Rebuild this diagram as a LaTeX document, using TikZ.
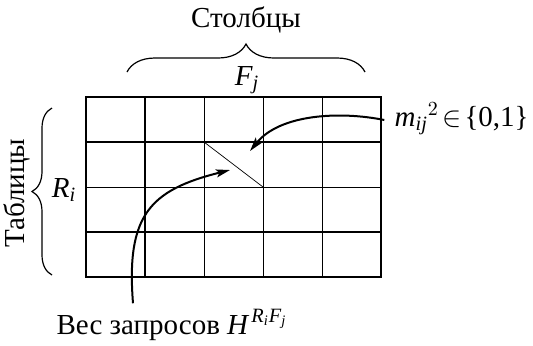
\documentclass[tikz,border=0pt]{standalone}
\usepackage{fontspec}
\setmainfont{Liberation Serif}
\usepackage{amsmath}
\usepackage{tikz}
\usetikzlibrary{arrows.meta,positioning,decorations.pathreplacing,calc}
\newcommand{\vi}[1]{\textit{#1}}
\tikzset{
  gridline/.style={line width=0.5pt,black},
  heavyline/.style={line width=1pt,black},
  diagline/.style={line width=0.35pt,black},
  bracestyle/.style={decorate,decoration={brace,amplitude=#1},line width=0.6pt},
  bracestyle/.default={10pt},
  pointer/.style={-{Stealth[length=7pt,width=4pt,inset=1.5pt]},line width=1pt},
  lbl/.style={font=\fontsize{14.5}{17}\selectfont,inner sep=1pt},
}

\begin{document}
\begin{tikzpicture}[x=0.5pt,y=-0.5pt]
  \useasboundingbox (0,0) rectangle (533,345);
  % grid of tables x columns
  \foreach \c in {1,...,4}
    \draw[gridline] (86+59*\c,97) -- (86+59*\c,277);
  \draw[heavyline,line width=0.8pt] (145,97) -- (145,277);
  \foreach \r in {2}
    \draw[gridline] (86,97+45*\r) -- (381,97+45*\r);
  \foreach \r in {1,3}
    \draw[heavyline] (86,97+45*\r) -- (381,97+45*\r);
  \draw[gridline,line width=0.65pt] (86,97) rectangle (381,277);
  \draw[diagline] (204,142) -- (263,187);
  \coordinate (mtip) at (250,151);
  \coordinate (htip) at (230,170);
  % labels
  \node[lbl] (cols) at (246,20) {Столбцы};
  \node[lbl] (fj) at (247,80) {$\vi{F}_{\vi{j}}$};
  \node[lbl,rotate=90] (tabs) at (17,193) {Таблицы};
  \node[lbl] (ri) at (64,190) {$\vi{R}_{\vi{i}}$};
  \node[lbl,anchor=east] (mij) at (531,119)
    {$\vi{m}_{\vi{ij}}{}^{2}\mathrel{\!\in\!}\mbox{\{0,1\}}$};
  \node[lbl] (weight) at (172,325) {Вес запросов $\vi{H}^{\,\vi{R}_{\vi{i}}\vi{F}_{\vi{j}}}$};
  % braces
  \draw[bracestyle=14pt] (127,72) -- (365,72);
  \draw[bracestyle=10pt] (52,275) -- (52,108);
  % arrows
  \draw[pointer] ($(mij.west)+(-8,1)$) .. controls (340,111) and (280,114) .. (mtip);
  \draw[pointer] (weight.north -| 133,0) ++(0,-4) .. controls (126,215) and (150,190) .. (htip);
\end{tikzpicture}
\end{document}
